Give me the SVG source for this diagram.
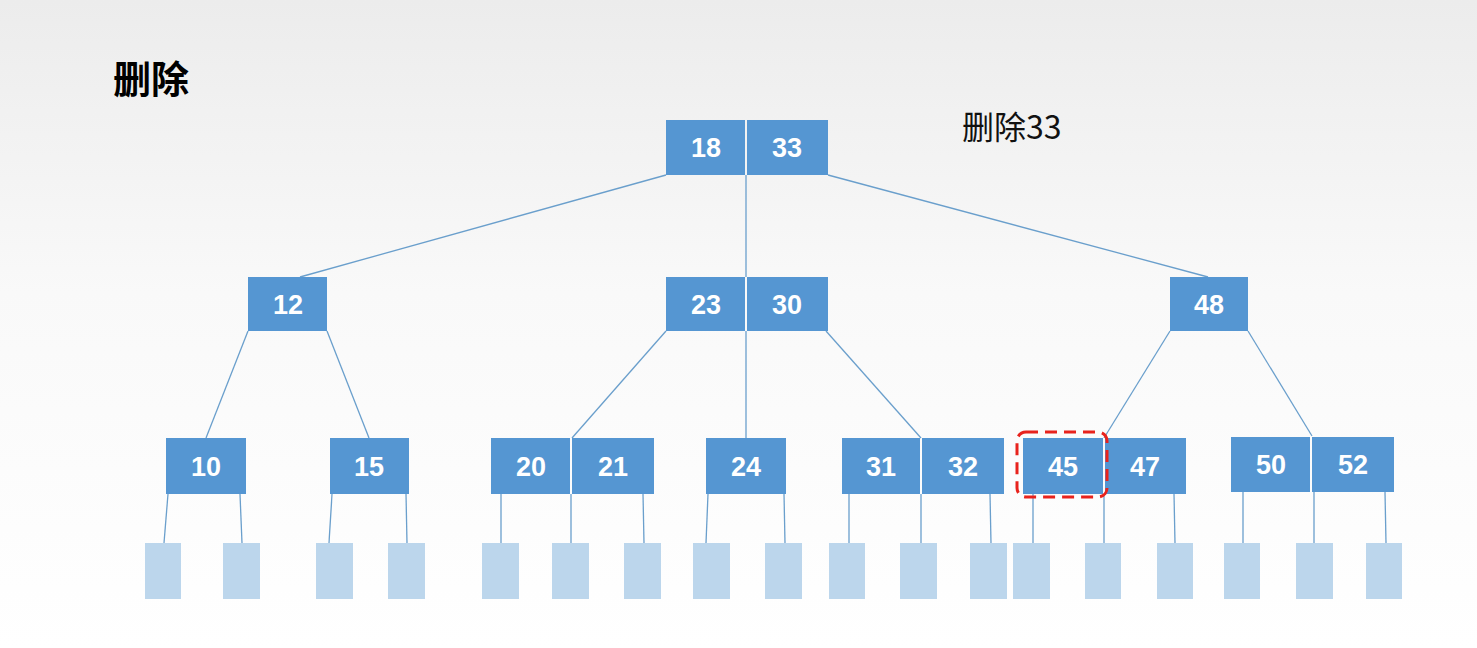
<svg xmlns="http://www.w3.org/2000/svg" width="1477" height="648" viewBox="0 0 1477 648">
<defs>
<linearGradient id="bg" x1="0" y1="0" x2="0" y2="1"><stop offset="0" stop-color="#ececec"/><stop offset="0.45" stop-color="#f9f9f9"/><stop offset="1" stop-color="#ffffff"/></linearGradient>
</defs>
<style>
.k{fill:#5596d2}
.lf{fill:#bcd6ec}
.t{font-family:"Liberation Sans","Noto Sans",sans-serif;font-weight:bold;font-size:27px;fill:#fff;text-anchor:middle}
.c line{stroke:#6a9fcc;stroke-width:1.3}
</style>
<rect width="1477" height="648" fill="url(#bg)"/>
<text x="113" y="93" font-family="'Noto Sans CJK SC',sans-serif" font-weight="bold" font-size="38" fill="#000">删除</text>
<text x="962" y="139" font-family="'Noto Sans CJK SC',sans-serif" font-size="32" fill="#111">删除33</text>
<g class="c">
<line x1="666" y1="175" x2="300" y2="277"/><line x1="746" y1="175" x2="746" y2="277"/><line x1="828" y1="175" x2="1208" y2="277"/>
<line x1="248" y1="331" x2="206" y2="438"/><line x1="327" y1="331" x2="369" y2="438"/>
<line x1="666" y1="331" x2="572" y2="438"/><line x1="746" y1="331" x2="746" y2="438"/><line x1="826" y1="331" x2="921" y2="438"/>
<line x1="1170" y1="331" x2="1104" y2="438"/><line x1="1248" y1="331" x2="1312" y2="436"/>
<line x1="168" y1="494" x2="164" y2="543"/><line x1="240" y1="494" x2="242" y2="543"/>
<line x1="332" y1="494" x2="329" y2="543"/><line x1="406" y1="494" x2="407" y2="543"/>
<line x1="501" y1="494" x2="501" y2="543"/><line x1="571" y1="494" x2="571" y2="543"/><line x1="643" y1="494" x2="644" y2="543"/>
<line x1="708" y1="494" x2="706" y2="543"/><line x1="784" y1="494" x2="785" y2="543"/>
<line x1="849" y1="494" x2="849" y2="543"/><line x1="921" y1="494" x2="921" y2="543"/><line x1="990" y1="494" x2="991" y2="543"/>
<line x1="1033" y1="494" x2="1033" y2="543"/><line x1="1104" y1="494" x2="1104" y2="543"/><line x1="1174" y1="494" x2="1175" y2="543"/>
<line x1="1243" y1="492" x2="1243" y2="543"/><line x1="1314" y1="492" x2="1314" y2="543"/><line x1="1385" y1="492" x2="1386" y2="543"/>
</g>
<g id="root"><rect class="k" x="666" y="120" width="79" height="55"/><rect class="k" x="747" y="120" width="81" height="55"/><text class="t" x="706" y="157">18</text><text class="t" x="787" y="157">33</text></g>
<g id="n12"><rect class="k" x="248" y="277" width="79" height="54"/><text class="t" x="288" y="314">12</text></g>
<g id="n2330"><rect class="k" x="666" y="277" width="79" height="54"/><rect class="k" x="747" y="277" width="81" height="54"/><text class="t" x="706" y="314">23</text><text class="t" x="787" y="314">30</text></g>
<g id="n48"><rect class="k" x="1170" y="277" width="78" height="54"/><text class="t" x="1209" y="314">48</text></g>
<g id="n10"><rect class="k" x="166" y="438" width="80" height="56"/><text class="t" x="206" y="476">10</text></g>
<g id="n15"><rect class="k" x="330" y="438" width="79" height="56"/><text class="t" x="369" y="476">15</text></g>
<g id="n2021"><rect class="k" x="491" y="438" width="79" height="56"/><rect class="k" x="572" y="438" width="82" height="56"/><text class="t" x="531" y="476">20</text><text class="t" x="613" y="476">21</text></g>
<g id="n24"><rect class="k" x="706" y="438" width="80" height="56"/><text class="t" x="746" y="476">24</text></g>
<g id="n3132"><rect class="k" x="842" y="438" width="78" height="56"/><rect class="k" x="922" y="438" width="82" height="56"/><text class="t" x="881" y="476">31</text><text class="t" x="963" y="476">32</text></g>
<g id="n4547"><rect class="k" x="1023" y="438" width="80" height="56"/><rect class="k" x="1105" y="438" width="81" height="56"/><text class="t" x="1063" y="476">45</text><text class="t" x="1145" y="476">47</text></g>
<g id="n5052"><rect class="k" x="1231" y="437" width="79" height="55"/><rect class="k" x="1312" y="437" width="82" height="55"/><text class="t" x="1271" y="474">50</text><text class="t" x="1353" y="474">52</text></g>
<g id="leaves">
<rect class="lf" x="145" y="543" width="36" height="56"/><rect class="lf" x="223" y="543" width="37" height="56"/>
<rect class="lf" x="316" y="543" width="37" height="56"/><rect class="lf" x="388" y="543" width="37" height="56"/>
<rect class="lf" x="482" y="543" width="37" height="56"/><rect class="lf" x="552" y="543" width="37" height="56"/><rect class="lf" x="624" y="543" width="37" height="56"/>
<rect class="lf" x="693" y="543" width="37" height="56"/><rect class="lf" x="765" y="543" width="37" height="56"/>
<rect class="lf" x="829" y="543" width="36" height="56"/><rect class="lf" x="900" y="543" width="37" height="56"/><rect class="lf" x="970" y="543" width="37" height="56"/>
<rect class="lf" x="1013" y="543" width="37" height="56"/><rect class="lf" x="1085" y="543" width="36" height="56"/><rect class="lf" x="1157" y="543" width="36" height="56"/>
<rect class="lf" x="1224" y="543" width="36" height="56"/><rect class="lf" x="1296" y="543" width="37" height="56"/><rect class="lf" x="1366" y="543" width="36" height="56"/>
</g>
<rect id="mark" x="1017" y="432" width="90" height="65" rx="9" fill="none" stroke="#e8231d" stroke-width="3" stroke-dasharray="12,7"/>
</svg>
